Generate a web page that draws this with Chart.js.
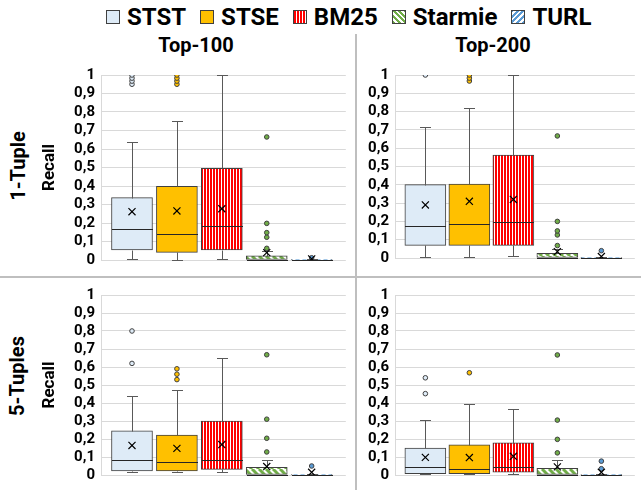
<!DOCTYPE html>
<html>
<head>
<meta charset="utf-8">
<script src="https://cdn.jsdelivr.net/npm/chart.js@4.4.0/dist/chart.umd.min.js"></script>
<style>
  body { margin: 0; background: #fff; font-family: Roboto, sans-serif; }
  #wrap { position: relative; width: 641px; height: 490px; overflow: hidden; }
  #wrap canvas { position: absolute; }
  .lbl { position: absolute; font-weight: 700; color: #000; white-space: nowrap; }
  .rot { transform: translate(-50%, -50%) rotate(-90deg); }
  .ctr { transform: translate(-50%, -50%); }
  #legend { position: absolute; left: 106px; top: 3px; display: flex; align-items: center; font-weight: 700; font-size: 24px; }
  #legend span { display: flex; align-items: center; margin-right: 14px; }
  #legend i { display: inline-block; width: 12px; height: 12px; border: 1px solid #404040; margin-right: 7px; }
  .vline { position: absolute; left: 355px; top: 34px; width: 2px; height: 456px; background: #bfbfbf; }
  .hline { position: absolute; left: 0; top: 276px; width: 641px; height: 2px; background: #bfbfbf; }
</style>
</head>
<body>
<div id="wrap">
  <div id="legend"></div>
  <div class="lbl ctr" style="left:196px; top:45px; font-size:20px;">Top-100</div>
  <div class="lbl ctr" style="left:493px; top:45px; font-size:20px;">Top-200</div>
  <div class="lbl rot" style="left:18px; top:166px; font-size:20px;">1-Tuple</div>
  <div class="lbl rot" style="left:17px; top:376px; font-size:20px;">5-Tuples</div>
  <div class="vline"></div>
  <div class="hline"></div>
  <canvas id="c11" width="352" height="215" style="left:0; top:60px;"></canvas>
  <canvas id="c12" width="281" height="215" style="left:360px; top:60px;"></canvas>
  <canvas id="c51" width="352" height="210" style="left:0; top:280px;"></canvas>
  <canvas id="c52" width="281" height="210" style="left:360px; top:280px;"></canvas>
</div>
<script>
// Legend / categories
const methods = ['STST', 'STSE', 'BM25', 'Starmie', 'TURL'];
const yTicks = ['0', '0,1', '0,2', '0,3', '0,4', '0,5', '0,6', '0,7', '0,8', '0,9', '1'];

// 1-Tuple, Top-100
const lo_1t100 = [0.007, 0, 0.007, 0, 0];
const q1_1t100 = [0.054, 0.041, 0.054, 0, 0];
const med_1t100 = [0.166, 0.142, 0.182, 0, 0];
const q3_1t100 = [0.337, 0.398, 0.496, 0.023, 0.002];
const hi_1t100 = [0.64, 0.75, 1.0, 0.05, 0.005];
const mean_1t100 = [0.261, 0.265, 0.277, 0.04, 0.006];
const out_1t100 = [[0.95, 0.967, 0.983, 1], [0.95, 0.967, 0.983, 1], [], [0.063, 0.123, 0.148, 0.198, 0.665], [0.012]];

// 1-Tuple, Top-200
const lo_1t200 = [0.004, 0.004, 0.013, 0, 0];
const q1_1t200 = [0.069, 0.069, 0.069, 0, 0];
const med_1t200 = [0.175, 0.186, 0.197, 0, 0];
const q3_1t200 = [0.401, 0.404, 0.563, 0.025, 0.002];
const hi_1t200 = [0.718, 0.818, 1.0, 0.05, 0.005];
const mean_1t200 = [0.29, 0.31, 0.32, 0.035, 0.008];
const out_1t200 = [[1], [0.967, 0.983, 1], [], [0.068, 0.126, 0.148, 0.2, 0.667], [0.04]];

// 5-Tuples, Top-100
const lo_5t100 = [0.016, 0.016, 0.016, 0, 0];
const q1_5t100 = [0.023, 0.023, 0.031, 0, 0];
const med_5t100 = [0.083, 0.074, 0.083, 0, 0];
const q3_5t100 = [0.245, 0.222, 0.299, 0.043, 0.002];
const hi_5t100 = [0.44, 0.472, 0.65, 0.086, 0.005];
const mean_5t100 = [0.164, 0.148, 0.169, 0.047, 0.015];
const out_5t100 = [[0.62, 0.8], [0.53, 0.56, 0.59], [], [0.128, 0.204, 0.31, 0.668], [0.05]];

// 5-Tuples, Top-200
const lo_5t200 = [0.005, 0.005, 0.005, 0, 0];
const q1_5t200 = [0.007, 0.007, 0.016, 0, 0];
const med_5t200 = [0.042, 0.035, 0.042, 0, 0];
const q3_5t200 = [0.149, 0.168, 0.179, 0.037, 0.002];
const hi_5t200 = [0.308, 0.397, 0.368, 0.082, 0.005];
const mean_5t200 = [0.098, 0.097, 0.104, 0.045, 0.015];
const out_5t200 = [[0.452, 0.54], [0.568], [], [0.123, 0.198, 0.305, 0.667], [0.035, 0.077]];

const solid = ['#deebf7', '#ffc000', '#ff0000', '#70ad47', '#5b9bd5'];

function stripes(color, kind) {
    const c = document.createElement('canvas');
    const size = kind === 'v' ? 3 : 7;
    c.width = size; c.height = size;
    const g = c.getContext('2d');
    g.fillStyle = '#fff';
    g.fillRect(0, 0, size, size);
    g.fillStyle = color;
    g.strokeStyle = color;
    if (kind === 'v') {
        g.fillRect(0, 0, 2, size);
    } else {
        g.lineWidth = 3;
        for (let k = -1; k <= 1; k++) {
            g.beginPath();
            if (kind === 'down') {
                g.moveTo(k * size, 0); g.lineTo(k * size + size, size);
            } else {
                g.moveTo(k * size, size); g.lineTo(k * size + size, 0);
            }
            g.stroke();
        }
    }
    return g.createPattern(c, 'repeat');
}

const fills = [solid[0], solid[1], stripes(solid[2], 'v'), stripes(solid[3], 'down'), stripes(solid[4], 'up')];

// HTML legend
const swatchCss = [
    'background:#deebf7',
    'background:#ffc000',
    'background:repeating-linear-gradient(90deg,#ff0000 0 2px,#fff 2px 3px)',
    'background:repeating-linear-gradient(45deg,#70ad47 0 2px,#fff 2px 4px)',
    'background:repeating-linear-gradient(-45deg,#5b9bd5 0 2px,#fff 2px 4px)'
];
document.getElementById('legend').innerHTML = methods
    .map((m, i) => `<span><i style="${swatchCss[i]}"></i>${m}</span>`).join('');

// whiskers + medians drawn with the chart's own scales
const boxLines = {
    id: 'boxLines',
    afterDatasetDraw(chart, args, opts) {
        if (args.index !== 0) return;
        const {ctx, scales: {x, y}} = chart;
        ctx.save();
        ctx.lineWidth = 1;
        opts.q1.forEach((q1, i) => {
            const cx = Math.round(x.getPixelForValue(i)) + 0.5;
            const py = v => Math.round(y.getPixelForValue(v)) + 0.5;
            ctx.strokeStyle = '#595959';
            ctx.beginPath();
            ctx.moveTo(cx, py(opts.hi[i])); ctx.lineTo(cx, py(opts.q3[i]));
            ctx.moveTo(cx - 5.5, py(opts.hi[i])); ctx.lineTo(cx + 5.5, py(opts.hi[i]));
            ctx.moveTo(cx, py(opts.lo[i])); ctx.lineTo(cx, py(q1));
            ctx.moveTo(cx - 5.5, py(opts.lo[i])); ctx.lineTo(cx + 5.5, py(opts.lo[i]));
            ctx.stroke();
            ctx.strokeStyle = '#262626';
            ctx.beginPath();
            ctx.moveTo(cx - 20.5, py(opts.med[i])); ctx.lineTo(cx + 20.5, py(opts.med[i]));
            ctx.stroke();
        });
        ctx.restore();
    }
};

function makePanel(id, s, pad, axisWidth, withTitle) {
    const ctx = document.getElementById(id).getContext('2d');
    const outliers = [];
    s.out.forEach((list, i) => list.forEach(v => outliers.push({x: i, y: v})));
    new Chart(ctx, {
        type: 'bar',
        data: {
            datasets: [{
                data: s.q1.map((q, i) => ({x: i, y: [q, s.q3[i]]})),
                backgroundColor: fills,
                borderColor: '#404040',
                borderWidth: 1,
                borderSkipped: false,
                barThickness: 41,
                order: 3
            }, {
                type: 'scatter',
                data: s.mean.map((m, i) => ({x: i, y: m})),
                pointStyle: 'crossRot',
                pointRadius: 5,
                borderColor: '#000',
                borderWidth: 1.2,
                backgroundColor: 'rgba(0,0,0,0)',
                order: 1
            }, {
                type: 'scatter',
                data: outliers,
                pointRadius: 2.3,
                borderWidth: 1,
                borderColor: '#404040',
                backgroundColor: c => solid[c.raw ? c.raw.x : 0],
                order: 2
            }]
        },
        options: {
            responsive: false,
            animation: false,
            events: [],
            layout: { padding: pad },
            scales: {
                x: {
                    type: 'linear',
                    display: false,
                    offset: false,
                    bounds: 'ticks',
                    grace: 0,
                    min: -0.69,
                    max: 4.76
                },
                y: {
                    min: 0,
                    max: 1,
                    afterFit: sc => { sc.width = axisWidth; },
                    ticks: {
                        stepSize: 0.1,
                        autoSkip: false,
                        padding: 6,
                        color: '#000',
                        font: { family: 'Roboto', weight: 'bold', size: 15 },
                        callback: (v, i) => yTicks[i]
                    },
                    grid: { color: '#d9d9d9', drawTicks: false },
                    border: { display: true, color: '#d9d9d9' },
                    title: {
                        display: withTitle,
                        text: 'Recall',
                        color: '#000',
                        padding: { top: 40 },
                        font: { family: 'Roboto', weight: 'bold', size: 17 }
                    }
                }
            },
            plugins: {
                legend: { display: false },
                tooltip: { enabled: false },
                boxLines: s
            }
        },
        plugins: [boxLines]
    });
}

makePanel('c11', {lo: lo_1t100, q1: q1_1t100, med: med_1t100, q3: q3_1t100, hi: hi_1t100, mean: mean_1t100, out: out_1t100},
    {left: 0, right: 5, top: 15, bottom: 15}, 101, true);
makePanel('c12', {lo: lo_1t200, q1: q1_1t200, med: med_1t200, q3: q3_1t200, hi: hi_1t200, mean: mean_1t200, out: out_1t200},
    {left: 0, right: 0, top: 15, bottom: 17}, 35, false);
makePanel('c51', {lo: lo_5t100, q1: q1_5t100, med: med_5t100, q3: q3_5t100, hi: hi_5t100, mean: mean_5t100, out: out_5t100},
    {left: 0, right: 5, top: 12, bottom: 13}, 101, true);
makePanel('c52', {lo: lo_5t200, q1: q1_5t200, med: med_5t200, q3: q3_5t200, hi: hi_5t200, mean: mean_5t200, out: out_5t200},
    {left: 0, right: 0, top: 15, bottom: 12}, 35, false);
</script>
</body>
</html>
